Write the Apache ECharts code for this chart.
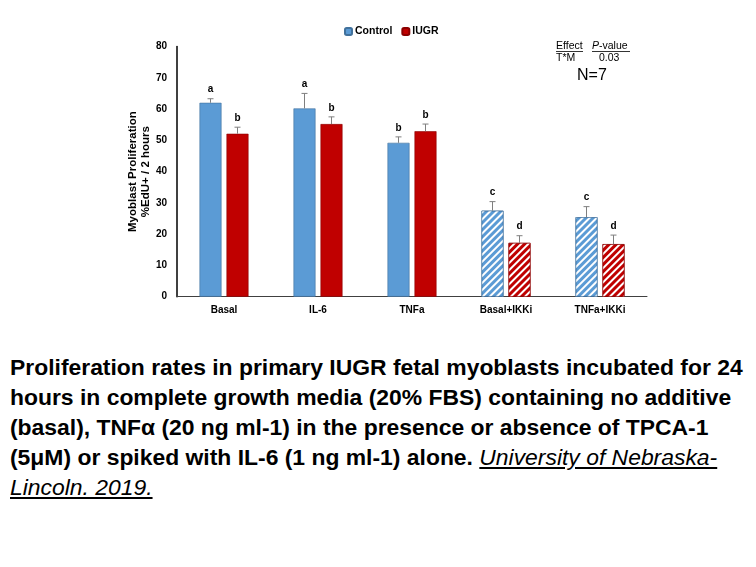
<!DOCTYPE html>
<html>
<head>
<meta charset="utf-8">
<script src="https://cdn.jsdelivr.net/npm/echarts@6/dist/echarts.min.js"></script>
<style>
html,body{margin:0;padding:0;background:#fff;}
#chart{position:absolute;left:0;top:0;width:756px;height:340px;}
#caption{position:absolute;left:10px;top:352px;width:745px;font-family:"Liberation Sans",Arial,sans-serif;font-weight:bold;font-size:22.9px;line-height:30px;color:#000;white-space:nowrap;}
#caption a{color:#000;font-weight:normal;font-style:italic;text-decoration:underline;}
</style>
</head>
<body>
<div id="chart"></div>
<div id="caption">Proliferation rates in primary IUGR fetal myoblasts incubated for 24<br>hours in complete growth media (20% FBS) containing no additive<br>(basal), TNFα (20 ng ml-1) in the presence or absence of TPCA-1<br>(5μM) or spiked with IL-6 (1 ng ml-1) alone. <a>University of Nebraska-<br>Lincoln. 2019.</a></div>
<script>
var categories = ['Basal', 'IL-6', 'TNFa', 'Basal+IKKi', 'TNFa+IKKi'];
var controlValues = [62.0, 60.2, 49.2, 27.5, 25.4];
var iugrValues = [52.1, 55.2, 52.9, 17.2, 16.8];
var controlErr = [1.3, 4.8, 1.9, 2.9, 3.4];
var iugrErr = [2.1, 2.3, 2.3, 2.3, 2.9];
var controlLetters = ['a', 'a', 'b', 'c', 'c'];
var iugrLetters = ['b', 'b', 'b', 'd', 'd'];
var yTicks = [0, 10, 20, 30, 40, 50, 60, 70, 80];

var chart = echarts.init(document.getElementById('chart'));
var hatch = {symbol: 'rect', symbolSize: 1, color: '#ffffff', dashArrayX: [1, 0], dashArrayY: [2, 3], rotation: -Math.PI / 4};
function barData(vals) {
  return vals.map(function (v, i) {
    var d = {value: v};
    if (categories[i].indexOf('IKKi') >= 0) d.itemStyle = {decal: hatch};
    return d;
  });
}
var BW = 22, GAP = 5;
function errSeries(vals, errs, letters, side) {
  return {
    type: 'custom',
    z: 5,
    data: vals.map(function (v, i) { return [i, v, errs[i]]; }),
    renderItem: function (params, api) {
      var i = api.value(0), v = api.value(1), e = api.value(2);
      var base = api.coord([i, v]);
      var top = api.coord([i, v + e]);
      var x = base[0] + side * (BW + GAP) / 2;
      return {
        type: 'group',
        children: [
          {type: 'line', shape: {x1: x, y1: base[1], x2: x, y2: top[1]}, style: {stroke: '#7f7f7f', lineWidth: 1}},
          {type: 'line', shape: {x1: x - 3, y1: top[1], x2: x + 3, y2: top[1]}, style: {stroke: '#7f7f7f', lineWidth: 1}},
          {type: 'text', style: {text: letters[params.dataIndex], x: x, y: top[1] - 4, textAlign: 'center', textVerticalAlign: 'bottom', font: 'bold 10px Liberation Sans', fill: '#000'}}
        ]
      };
    }
  };
}
chart.setOption({
  animation: false,
  backgroundColor: '#fff',
  textStyle: {fontFamily: 'Liberation Sans'},
  legend: {
    data: ['Control', 'IUGR'],
    top: 21, left: 339,
    itemWidth: 7, itemHeight: 7, itemGap: 9,
    textStyle: {fontWeight: 'bold', fontSize: 10.5, color: '#000', padding: [0, 0, 0, -2]}
  },
  grid: {left: 177, right: 109, top: 46.5, bottom: 43.3, containLabel: false},
  xAxis: {
    type: 'category', data: categories,
    axisLine: {lineStyle: {color: '#404040', width: 1}},
    axisTick: {show: false},
    axisLabel: {fontWeight: 'bold', fontSize: 10, color: '#000', margin: 9}
  },
  yAxis: {
    type: 'value', min: yTicks[0], max: yTicks[yTicks.length - 1], interval: 10,
    name: 'Myoblast Proliferation\n%EdU+ / 2 hours', nameLocation: 'middle', nameGap: 25, nameMoveOverlap: false,
    nameTextStyle: {fontWeight: 'bold', fontSize: 11.5, color: '#000', lineHeight: 12.5},
    axisLine: {show: true, lineStyle: {color: '#000', width: 1.5}},
    axisTick: {show: false},
    splitLine: {show: false},
    axisLabel: {fontWeight: 'bold', fontSize: 10, color: '#000', margin: 10}
  },
  series: [
    {name: 'Control', type: 'bar', data: barData(controlValues), barWidth: BW, barGap: (GAP / BW * 100) + '%',
     itemStyle: {color: '#5b9bd5', borderColor: '#41719c', borderWidth: 0.6}},
    {name: 'IUGR', type: 'bar', data: barData(iugrValues), barWidth: BW,
     itemStyle: {color: '#c00000', borderColor: '#8b0000', borderWidth: 0.6}},
    errSeries(controlValues, controlErr, controlLetters, -1),
    errSeries(iugrValues, iugrErr, iugrLetters, 1)
  ],
  graphic: [
    {type: 'text', left: 556, top: 41, style: {text: 'Effect', font: '10.5px Liberation Sans', fill: '#000'}},
    {type: 'line', shape: {x1: 556, y1: 51.5, x2: 583, y2: 51.5}, style: {stroke: '#000', lineWidth: 0.8}},
    {type: 'text', left: 592, top: 41, style: {text: '{i|P}-value', font: '10.5px Liberation Sans', fill: '#000', rich: {i: {fontStyle: 'italic', fontSize: 10.5, fontFamily: 'Liberation Sans'}}}},
    {type: 'line', shape: {x1: 592, y1: 51.5, x2: 630, y2: 51.5}, style: {stroke: '#000', lineWidth: 0.8}},
    {type: 'text', left: 556, top: 53, style: {text: 'T*M', font: '10.5px Liberation Sans', fill: '#000'}},
    {type: 'text', left: 599, top: 53, style: {text: '0.03', font: '10.5px Liberation Sans', fill: '#000'}},
    {type: 'text', left: 577, top: 68, style: {text: 'N=7', font: '16px Liberation Sans', fill: '#000'}}
  ]
});
</script>
</body>
</html>
